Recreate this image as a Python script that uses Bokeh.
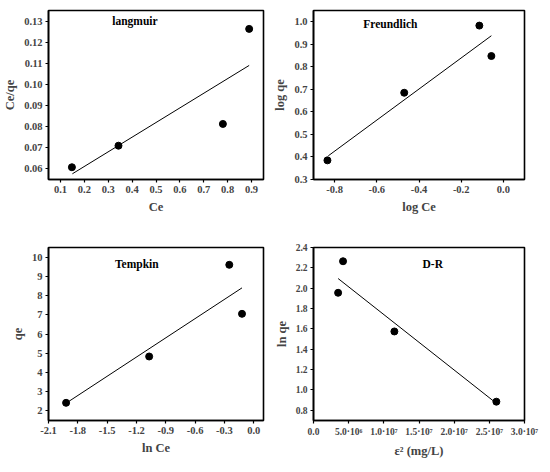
from bokeh.plotting import figure
from bokeh.layouts import gridplot
from bokeh.models import FixedTicker, Range1d
from bokeh.core.properties import value
from bokeh.embed import file_html
from bokeh.resources import INLINE

FONT = "Liberation Serif"

# Langmuir
lang_x = [0.148, 0.343, 0.780, 0.890]
lang_y = [0.0608, 0.0710, 0.0813, 0.1263]
lang_fit_x = [0.15, 0.89]
lang_fit_y = [0.0577, 0.1090]
lang_xticks = [0.1, 0.2, 0.3, 0.4, 0.5, 0.6, 0.7, 0.8, 0.9]
lang_yticks = [0.06, 0.07, 0.08, 0.09, 0.10, 0.11, 0.12, 0.13]

# Freundlich
fr_x = [-0.834, -0.470, -0.114, -0.057]
fr_y = [0.385, 0.685, 0.983, 0.848]
fr_fit_x = [-0.830, -0.057]
fr_fit_y = [0.405, 0.938]
fr_xticks = [-0.8, -0.6, -0.4, -0.2, 0.0]
fr_yticks = [0.3, 0.4, 0.5, 0.6, 0.7, 0.8, 0.9, 1.0]

# Tempkin
te_x = [-1.92, -1.07, -0.25, -0.12]
te_y = [2.42, 4.83, 9.60, 7.05]
te_fit_x = [-1.92, -0.12]
te_fit_y = [2.40, 8.40]
te_xticks = [-2.1, -1.8, -1.5, -1.2, -0.9, -0.6, -0.3, 0.0]
te_yticks = [2, 3, 4, 5, 6, 7, 8, 9, 10]

# D-R
dr_x = [3.5e6, 4.2e6, 1.15e7, 2.6e7]
dr_y = [1.955, 2.265, 1.575, 0.885]
dr_fit_x = [3.5e6, 2.58e7]
dr_fit_y = [2.095, 0.880]
dr_xticks = [0, 5e6, 1e7, 1.5e7, 2e7, 2.5e7, 3e7]
dr_xlabels = ["0.0", "5.0·10⁶", "1.0·10⁷", "1.5·10⁷", "2.0·10⁷", "2.5·10⁷", "3.0·10⁷"]
dr_yticks = [0.8, 1.0, 1.2, 1.4, 1.6, 1.8, 2.0, 2.2, 2.4]


def panel(w, h, xr, yr, xticks, yticks, xlabel, ylabel, xs, ys, fx, fy,
          title, tx, ty, borders, tick_size="10.5px", xoverrides=None, yfmt=None):
    p = figure(width=w, height=h, output_backend="svg", toolbar_location=None,
               x_range=Range1d(*xr), y_range=Range1d(*yr),
               min_border_left=borders[0], min_border_right=borders[1],
               min_border_top=borders[2], min_border_bottom=borders[3])
    p.grid.visible = False
    p.outline_line_color = "black"
    p.outline_line_width = 1.6
    p.background_fill_color = "white"
    p.border_fill_color = "white"
    for ax, ticks in ((p.xaxis[0], xticks), (p.yaxis[0], yticks)):
        ax.ticker = FixedTicker(ticks=ticks)
        ax.minor_tick_line_color = None
        ax.major_tick_out = 3
        ax.major_tick_in = 0
        ax.major_tick_line_width = 1.2
        ax.axis_line_width = 1.6
        ax.major_label_text_font = FONT
        ax.major_label_text_font_style = "bold"
        ax.major_label_text_font_size = tick_size
        ax.major_label_standoff = 3
        ax.axis_label_text_font = FONT
        ax.axis_label_text_font_style = "bold"
        ax.axis_label_text_font_size = "12.5px"
        ax.axis_label_standoff = 4
    p.xaxis.axis_label = xlabel
    p.yaxis.axis_label = ylabel
    if xoverrides:
        p.xaxis.major_label_overrides = xoverrides
    if yfmt:
        p.yaxis.major_label_overrides = yfmt
    p.line(fx, fy, line_color="black", line_width=1)
    p.scatter(xs, ys, size=7, color="black")
    p.text([tx], [ty], text=[title], text_font=value(FONT), text_font_style="bold",
           text_font_size="11.5px", text_baseline="middle", text_align="left")
    return p


p1 = panel(270, 231, (0.05, 0.95), (0.055, 0.135), lang_xticks, lang_yticks,
           "Ce", "Ce/qe", lang_x, lang_y, lang_fit_x, lang_fit_y,
           "langmuir", 0.317, 0.130, (37, 6, 10, 52),
           yfmt={t: f"{t:.2f}" for t in lang_yticks},
           xoverrides={t: f"{t:.1f}" for t in lang_xticks})
p2 = panel(270, 231, (-0.9, 0.1), (0.3, 1.05), fr_xticks, fr_yticks,
           "log Ce", "log qe", fr_x, fr_y, fr_fit_x, fr_fit_y,
           "Freundlich", -0.664, 0.99, (32, 7, 4, 43),
           yfmt={t: f"{t:.1f}" for t in fr_yticks},
           xoverrides={t: f"{t:.1f}" for t in fr_xticks})
p3 = panel(270, 231, (-2.1, 0.1), (1.5, 10.5), te_xticks, te_yticks,
           "ln Ce", "qe", te_x, te_y, te_fit_x, te_fit_y,
           "Tempkin", -1.42, 9.62, (33, 7, 11, 34),
           xoverrides={t: f"{t:.1f}" for t in te_xticks})
p4 = panel(270, 231, (0, 3e7), (0.7, 2.4), dr_xticks, dr_yticks,
           "ε² (mg/L)", "ln qe", dr_x, dr_y, dr_fit_x, dr_fit_y,
           "D-R", 1.55e7, 2.233, (32, 16, 16, 42), tick_size="9.5px",
           xoverrides=dict(zip(dr_xticks, dr_xlabels)),
           yfmt={t: f"{t:.1f}" for t in dr_yticks})

grid = gridplot([[p1, p2], [p3, p4]], toolbar_location=None)

open("out.html", "w").write(file_html(grid, INLINE))
